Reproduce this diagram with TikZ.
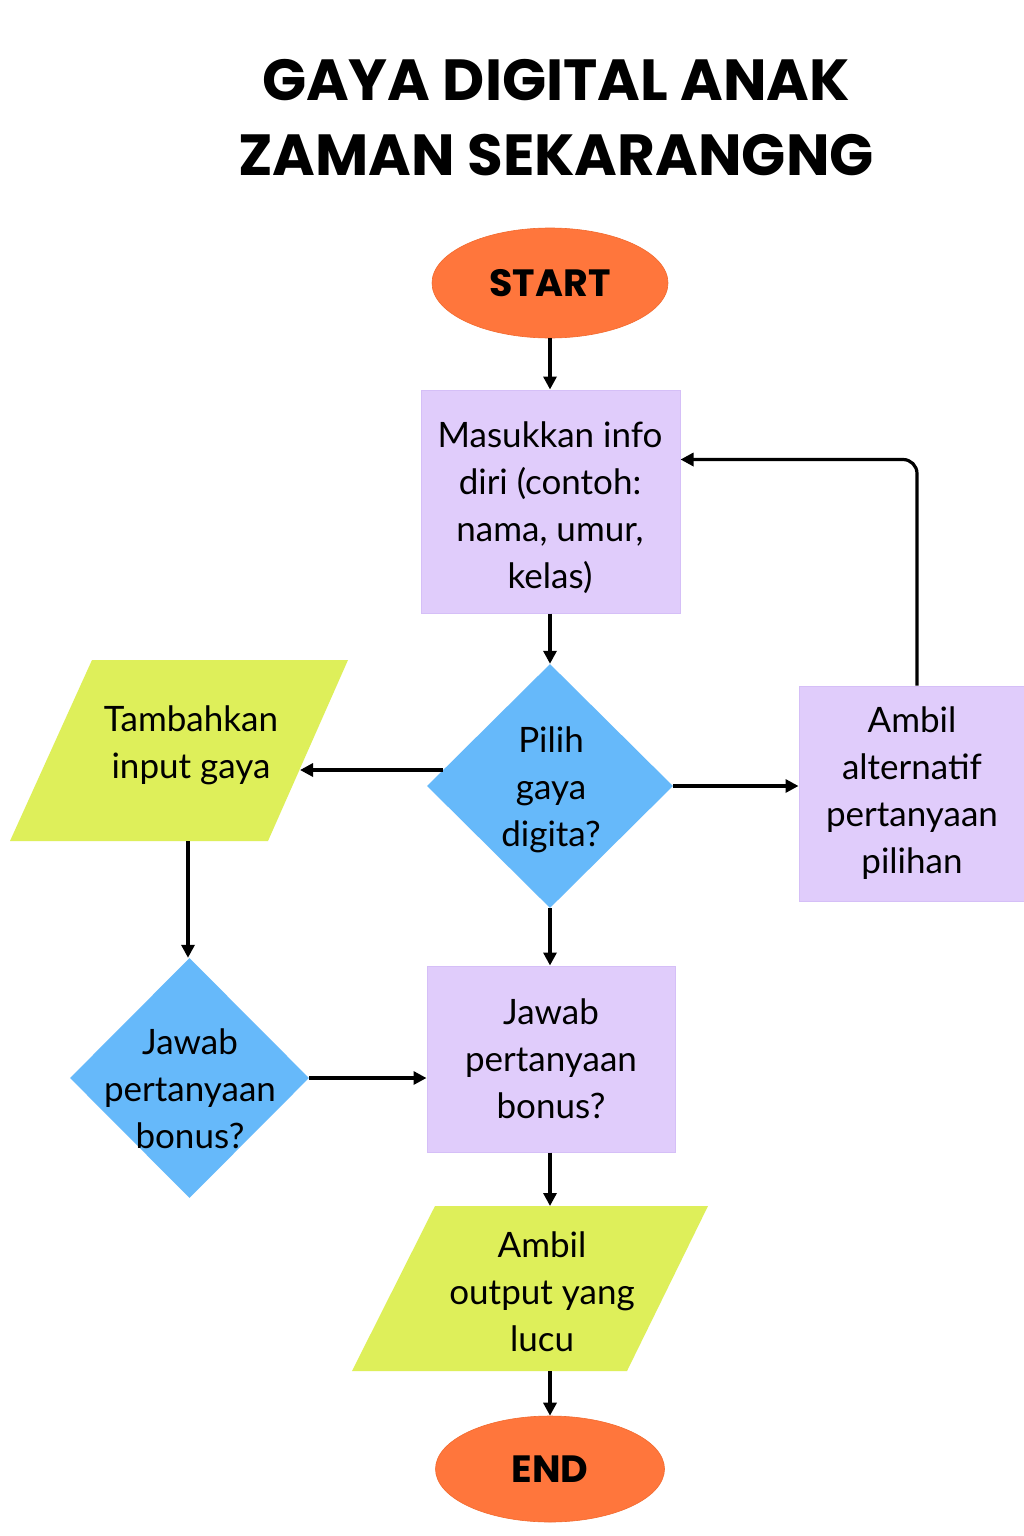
\documentclass[tikz,border=0pt]{standalone}
\usepackage{fontspec}
\setmainfont{Lato}
\newfontfamily\titlefont{Poppins}
\usetikzlibrary{shapes.geometric,arrows.meta,calc}
\definecolor{orangeF}{HTML}{FF763C}
\definecolor{orangeD}{HTML}{F26A2E}
\definecolor{lavF}{HTML}{E0CCFB}
\definecolor{lavD}{HTML}{D5BFF7}
\definecolor{blueF}{HTML}{66B9FA}
\definecolor{limeF}{HTML}{DEEF5A}
\begin{document}
\begin{tikzpicture}[x=1pt,y=-1pt,
  conn/.style={line width=3.2pt,-{Triangle[length=13pt,width=13pt]}},
  body/.style={font=\fontsize{35}{47}\selectfont, align=center, text=black, inner sep=0pt},
  term/.style={ellipse, fill=orangeF, draw=orangeD, line width=0.6pt, inner sep=0pt,
    font=\titlefont\bfseries\fontsize{38}{40}\selectfont},
  procbox/.style={rectangle, fill=lavF, draw=lavD, line width=1pt, inner sep=0pt,
    body},
  decis/.style={diamond, fill=blueF, inner sep=0pt},
  iofill/.style={fill=limeF}
]
\useasboundingbox (0,0) rectangle (1024,1536);
\fill[white] (0,0) rectangle (1024,1536);

% title
\node[font=\titlefont\bfseries\fontsize{58}{75}\selectfont, align=center, inner sep=0pt] (title) at (556,118)
  {GAYA DIGITAL ANAK\\ZAMAN SEKARANGNG};

% start / end
\node[term, minimum width=236, minimum height=110] (start) at (550,283) {START};
\node[term, minimum width=229, minimum height=106] (end) at (550,1469) {END};

% process boxes
\node[procbox, minimum width=259, minimum height=223] (masuk) at (550.5,501.5) {};
\node[body] (masukT) at (550,508) {Masukkan info\\diri (contoh:\\nama, umur,\\kelas)};
\node[procbox, minimum width=248, minimum height=186] (jawabR) at (551,1059)
  {Jawab\\pertanyaan\\bonus?};
\node[procbox, minimum width=226, minimum height=215] (ambil) at (912,793.5)
  {Ambil\\alternatif\\pertanyaan\\pilihan};

% decisions
\node[decis, minimum width=246, minimum height=244] (pilih) at (550,786) {};
\node[body] (pilihT) at (551,790) {Pilih\\gaya\\digita?};
\node[decis, minimum width=239, minimum height=240] (jawabD) at (189.5,1078) {};
\node[body] (jawabDT) at (190,1089) {Jawab\\pertanyaan\\bonus?};

% input/output parallelograms
\coordinate (tambTop) at (188,660);
\coordinate (tambBot) at (188,841);
\coordinate (tambR) at (300,770);
\fill[iofill] (92,660) -- (348,660) -- (268,841) -- (10,841) -- cycle;
\node[body] (tamb) at (191,745) {Tambahkan\\input gaya};

\coordinate (outTop) at (550,1206);
\coordinate (outBot) at (550,1371);
\fill[iofill] (435,1206) -- (708,1206) -- (627,1371) -- (352,1371) -- cycle;
\node[body] (out) at (542,1292) {Ambil\\output yang\\lucu};

% connectors
\draw[conn] (start.south) -- (start.south |- masuk.north);
\draw[conn] (start.south |- masuk.south) -- (pilih.north);
\draw[conn] ($(pilih.west)+(16,-16)$) -- (tambR);
\draw[conn] (pilih.east) -- (pilih.east -| ambil.west);
\draw[conn] (pilih.south) -- (pilih.south |- jawabR.north);
\draw[conn] (tambBot) -- (tambBot |- jawabD.north);
\draw[conn] (jawabD.east) -- (jawabD.east -| jawabR.west);
\draw[conn, rounded corners=14pt] ([xshift=5pt]ambil.north) |- ([yshift=42pt]masuk.east);
\draw[conn] (outTop |- jawabR.south) -- (outTop);
\draw[conn] (outBot) -- (end.north);
\end{tikzpicture}
\end{document}
